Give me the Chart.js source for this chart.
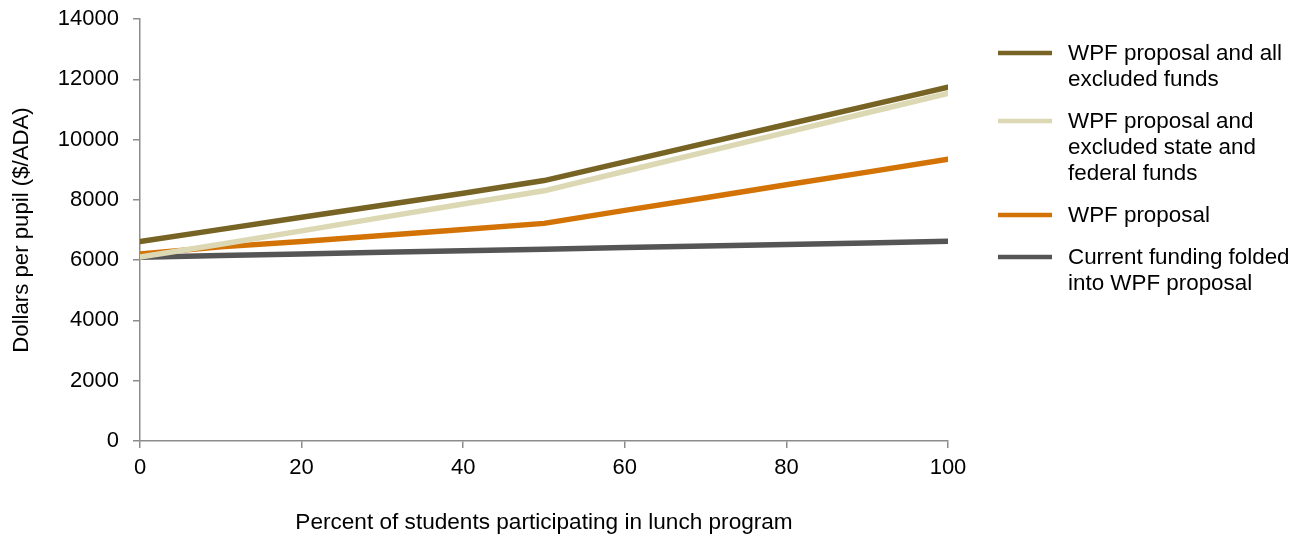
<!DOCTYPE html>
<html>
<head>
<meta charset="utf-8">
<title>Dollars per pupil by lunch program participation</title>
<script src="https://cdn.jsdelivr.net/npm/chart.js@4"></script>
<style>
  html, body { margin: 0; padding: 0; background: #ffffff; }
  #wrap { width: 1304px; height: 537px; position: relative; }
</style>
</head>
<body>
<div id="wrap"><canvas id="chart" width="1304" height="537"></canvas></div>
<script>
// Percent of students participating in the lunch program
const participation = [0, 10, 20, 30, 40, 50, 60, 70, 80, 90, 100];

// Dollars per pupil ($/ADA) for each funding scenario
const wpfAllExcluded      = [6620, 7020, 7420, 7820, 8220, 8640, 9260, 9880, 10500, 11120, 11740];
const wpfStateFederal     = [6100, 6530, 6970, 7420, 7860, 8300, 8950, 9590, 10240, 10890, 11530];
const wpfProposal         = [6200, 6440, 6620, 6820, 7020, 7220, 7650, 8070, 8500, 8920, 9350];
const currentFundingFolded = [6100, 6150, 6200, 6260, 6310, 6360, 6420, 6470, 6520, 6570, 6630];

// Legend text, one entry per series, split into lines
const seriesNames = [
  ["WPF proposal and all", "excluded funds"],
  ["WPF proposal and", "excluded state and", "federal funds"],
  ["WPF proposal"],
  ["Current funding folded", "into WPF proposal"]
];
const seriesColors = ["#776425", "#dcd8b3", "#d37306", "#555555"];
const seriesValues = [wpfAllExcluded, wpfStateFederal, wpfProposal, currentFundingFolded];

// Axis settings
const xTicks = { min: 0, max: 100, step: 20 };
const yTicks = { min: 0, max: 14000, step: 2000 };
const xTitle = "Percent of students participating in lunch program";
const yTitle = "Dollars per pupil ($/ADA)";

const FONT = "'Liberation Sans', Arial, Helvetica, sans-serif";
const AXIS_GREY = "#8c8c8c";

const datasets = seriesValues.map((vals, i) => ({
  label: seriesNames[i].join(" "),
  data: participation.map((x, j) => ({ x: x, y: vals[j] })),
  borderColor: seriesColors[i],
  backgroundColor: seriesColors[i],
  borderWidth: 5.5,
  borderCapStyle: "round",
  borderJoinStyle: "round",
  pointRadius: 0,
  tension: 0,
  fill: false
}));

// Multi-line legend to the right of the plot
const sideLegend = {
  id: "sideLegend",
  afterDraw(chart) {
    const ctx = chart.ctx;
    const lineX0 = 998, lineX1 = 1052, textX = 1068;
    const lineH = 26, itemGap = 42;
    let y = 53;
    ctx.save();
    ctx.font = "22.4px " + FONT;
    ctx.textBaseline = "middle";
    ctx.textAlign = "left";
    seriesNames.forEach((lines, i) => {
      ctx.strokeStyle = seriesColors[i];
      ctx.lineWidth = 4.5;
      ctx.lineCap = "butt";
      ctx.beginPath();
      ctx.moveTo(lineX0, y);
      ctx.lineTo(lineX1, y);
      ctx.stroke();
      ctx.fillStyle = "#000000";
      lines.forEach((t, k) => {
        ctx.fillText(t, textX, y + k * lineH + 1);
      });
      y += (lines.length - 1) * lineH + itemGap;
    });
    ctx.restore();
  }
};

new Chart(document.getElementById("chart"), {
  type: "line",
  data: { datasets: datasets },
  plugins: [sideLegend],
  options: {
    responsive: false,
    animation: false,
    devicePixelRatio: 1,
    layout: { padding: { top: 19, right: 356, bottom: 0, left: 0 } },
    plugins: {
      legend: { display: false },
      tooltip: { enabled: false },
      title: { display: false }
    },
    scales: {
      x: {
        type: "linear",
        min: xTicks.min,
        max: xTicks.max,
        afterFit(scale) { scale.height = 96; },
        border: { display: true, color: AXIS_GREY, width: 1.5 },
        grid: { drawOnChartArea: false, drawTicks: true, tickLength: 7, color: AXIS_GREY, lineWidth: 1.5 },
        ticks: {
          stepSize: xTicks.step,
          color: "#000000",
          font: { family: FONT, size: 22 },
          padding: 7,
          maxRotation: 0,
          callback: (v) => String(v)
        },
        title: {
          display: true,
          text: xTitle,
          color: "#000000",
          font: { family: FONT, size: 22.6 },
          padding: { top: 0, bottom: 1 }
        }
      },
      y: {
        type: "linear",
        min: yTicks.min,
        max: yTicks.max,
        afterFit(scale) {
          scale.width = 140;
          scale.paddingTop = 0;
          scale.paddingBottom = 0;
        },
        border: { display: true, color: AXIS_GREY, width: 1.5 },
        grid: { drawOnChartArea: false, drawTicks: true, tickLength: 7, color: AXIS_GREY, lineWidth: 1.5 },
        ticks: {
          stepSize: yTicks.step,
          color: "#000000",
          font: { family: FONT, size: 22 },
          padding: 14,
          callback: (v) => String(v)
        },
        title: {
          display: true,
          text: yTitle,
          color: "#000000",
          font: { family: FONT, size: 22.2 },
          padding: { top: 9, bottom: 0 }
        }
      }
    }
  }
});
</script>
</body>
</html>
